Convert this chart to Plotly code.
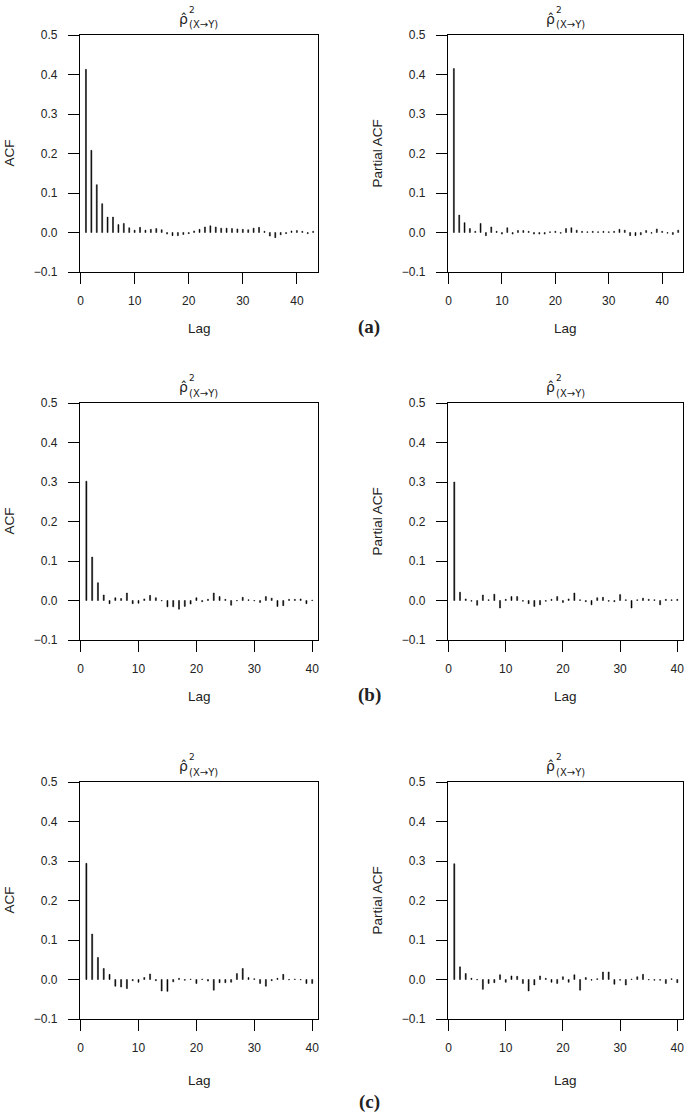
import plotly.graph_objects as go

# ---------------------------------------------
# data (lag 1 .. n)
# ---------------------------------------------
lags_a = list(range(1, 44))
lags_bc = list(range(1, 41))

acf_a = [0.413, 0.208, 0.121, 0.073, 0.039, 0.039, 0.020, 0.023, 0.012, 0.006,
         0.013, 0.006, 0.008, 0.010, 0.007, -0.004, -0.008, -0.008, -0.005, -0.003,
         0.004, 0.008, 0.014, 0.017, 0.014, 0.011, 0.011, 0.010, 0.009, 0.008,
         0.007, 0.011, 0.013, 0.003, -0.009, -0.013, -0.006, -0.003, 0.004, 0.005,
         0.003, -0.003, 0.003]
pacf_a = [0.415, 0.044, 0.025, 0.010, 0.003, 0.023, -0.008, 0.014, 0.003, -0.004,
          0.012, -0.004, 0.005, 0.005, 0.003, -0.004, -0.004, -0.004, 0.002, 0.003,
          -0.002, 0.010, 0.012, 0.006, 0.003, 0.002, 0.003, 0.002, 0.003, 0.002,
          0.003, 0.008, 0.006, -0.008, -0.008, -0.006, 0.005, -0.002, 0.009, 0.003,
          -0.002, -0.005, 0.006]

acf_b = [0.302, 0.110, 0.045, 0.014, -0.008, 0.007, 0.005, 0.019, -0.008, -0.007,
         0.004, 0.013, 0.007, -0.001, -0.016, -0.016, -0.022, -0.015, -0.009, 0.007,
         -0.003, 0.003, 0.019, 0.010, 0.003, -0.012, -0.001, 0.008, 0.002, -0.001,
         -0.005, 0.010, 0.006, -0.015, -0.013, 0.003, 0.003, 0.004, -0.008, 0.001]
pacf_b = [0.300, 0.021, 0.004, -0.002, -0.012, 0.014, 0.002, 0.016, -0.019, 0.003,
          0.010, 0.010, -0.002, -0.008, -0.015, -0.011, -0.002, 0.003, 0.010, -0.005,
          0.004, 0.019, 0.002, -0.003, -0.011, 0.007, 0.008, -0.002, -0.003, 0.015,
          0.002, -0.019, 0.002, 0.006, 0.003, 0.002, -0.011, 0.003, 0.002, 0.003]

acf_c = [0.294, 0.115, 0.056, 0.028, 0.013, -0.017, -0.019, -0.023, -0.003, -0.007,
         0.005, 0.014, -0.003, -0.029, -0.030, -0.006, 0.003, -0.002, 0.001, -0.010,
         0.001, -0.004, -0.027, -0.008, -0.008, -0.007, 0.015, 0.028, 0.005, 0.002,
         -0.010, -0.017, -0.003, 0.003, 0.013, -0.001, 0.001, -0.001, -0.010, -0.010]
pacf_c = [0.293, 0.032, 0.015, 0.003, -0.001, -0.025, -0.010, -0.008, 0.012, -0.007,
          0.009, 0.008, -0.010, -0.029, -0.014, 0.009, 0.003, -0.007, -0.010, 0.007,
          -0.007, 0.012, -0.027, 0.005, -0.002, 0.002, 0.019, 0.019, -0.012, -0.002,
          -0.014, 0.001, 0.007, 0.013, -0.001, -0.002, -0.002, -0.010, 0.002, -0.008]

y_ticks = [-0.1, 0.0, 0.1, 0.2, 0.3, 0.4, 0.5]
x_ticks = [0, 10, 20, 30, 40]
panel_labels = ["(a)", "(b)", "(c)"]

# ---------------------------------------------
# layout in pixels
# ---------------------------------------------
W, H = 685, 1113
col_px = [(80, 318), (448, 683)]
row_px = [(35, 272), (403, 640), (782, 1019)]   # top, bottom of each box
lag_off = [56, 56, 61]          # "Lag" below box bottom
lab_off = [55, 55, 83]          # (a)/(b)/(c) below box bottom
x_max = [43.9, 41.0, 41.0]


def px(x):
    return x / W


def py(y):
    return 1 - y / H


panels = [
    (lags_a, acf_a, pacf_a),
    (lags_bc, acf_b, pacf_b),
    (lags_bc, acf_c, pacf_c),
]

fig = go.Figure()
font = "Liberation Sans, Arial, sans-serif"
dejavu = "DejaVu Sans, sans-serif"
annotations = []
layout = {}


def note(text, x, y, size, family=font, **kw):
    d = dict(text=text, x=px(x), y=py(y), xref="paper", yref="paper",
             xanchor="center", yanchor="middle", showarrow=False, borderpad=0,
             font=dict(family=family, size=size, color="#222"))
    d.update(kw)
    return d


k = 0
for r, (lags, acf, pacf) in enumerate(panels):
    top, bot = row_px[r]
    for c, vals in enumerate([acf, pacf]):
        k += 1
        left, right = col_px[c]
        xa = "xaxis" if k == 1 else f"xaxis{k}"
        ya = "yaxis" if k == 1 else f"yaxis{k}"
        fig.add_trace(go.Bar(
            x=lags, y=vals, width=0.18,
            marker=dict(color="black", line=dict(color="black", width=0.5)),
            xaxis=f"x{k}", yaxis=f"y{k}", showlegend=False,
        ))
        axis_style = dict(
            showline=True, mirror=True, linecolor="black", linewidth=1.3,
            ticks="outside", ticklen=11, tickwidth=1.1, tickcolor="black",
            showgrid=False, zeroline=False, automargin=False,
            tickfont=dict(family=font, size=12, color="#222"),
        )
        layout[xa] = dict(axis_style, domain=[px(left), px(right)],
                          range=[-0.1, x_max[r]], tickvals=x_ticks,
                          anchor=f"y{k}", ticklabelstandoff=6)
        layout[ya] = dict(axis_style, domain=[py(bot), py(top)],
                          range=[-0.1, 0.5], tickvals=y_ticks,
                          tickformat=".1f", anchor=f"x{k}",
                          ticklabelstandoff=8)

        cx = (left + right) / 2
        # title: rho-hat, squared, subscript (X->Y)
        annotations.append(note("ρ̂", cx - 10, top - 16, 14, dejavu, xanchor="right"))
        annotations.append(note("2", cx - 11, top - 25, 9, dejavu, xanchor="left"))
        annotations.append(note("(X→Y)", cx - 11, top - 10, 10, dejavu, xanchor="left"))
        # axis titles
        annotations.append(note("Lag", cx, bot + lag_off[r], 13.5))
        annotations.append(note("ACF" if c == 0 else "Partial ACF",
                                left - 71, (top + bot) / 2, 13.5, textangle=-90))

    annotations.append(note("<b>" + panel_labels[r] + "</b>", 369, bot + lab_off[r], 19,
                            "Liberation Serif, Times New Roman, serif"))

fig.update_layout(
    width=W, height=H,
    margin=dict(l=0, r=0, t=0, b=0),
    paper_bgcolor="white", plot_bgcolor="white",
    annotations=annotations,
    **layout,
)

fig.write_html("out.html", config={"displayModeBar": False},
               post_script="document.body.style.margin='0';")
